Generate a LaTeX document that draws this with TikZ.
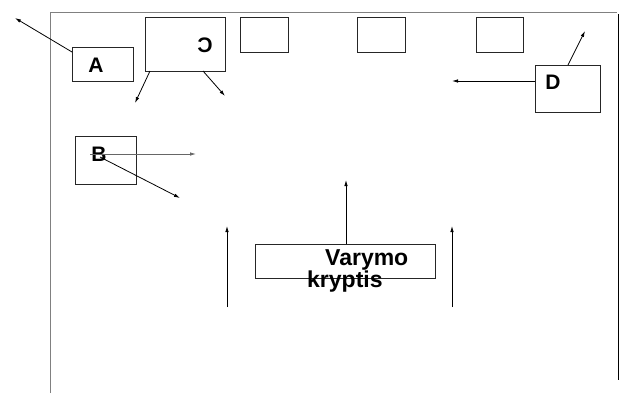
\documentclass[tikz,border=0pt]{standalone}
\usepackage{fontspec}
\setmainfont{Liberation Sans}
\usetikzlibrary{arrows.meta}
\begin{document}
\begin{tikzpicture}[x=1pt,y=-1pt,
  box/.style={draw=black!85,line width=0.9pt,inner sep=0pt,anchor=north west},
  lbl/.style={font=\bfseries\fontsize{21}{21}\selectfont,inner sep=0pt},
  arr/.style={-{Latex[length=6pt,width=3.5pt]},line width=0.8pt},
  frame/.style={draw=black!50,line width=1pt}]
\useasboundingbox (0,0) rectangle (638,407);
% frame
\coordinate (tl) at (50,12);
\coordinate (tr) at (617,12);
\coordinate (bl) at (50,393);
\coordinate (rt) at (618,14);
\coordinate (rb) at (618,380);
\draw[frame] (bl) -- (tl) -- (tr);
\draw[line width=0.9pt] (rt) -- (rb);
% boxes
\node[box,minimum width=61pt,minimum height=34pt] (A) at (72,47) {};
\node[lbl] (At) at (96,65) {A};
\node[box,minimum width=80pt,minimum height=54pt] (C) at (145,17) {};
\node[lbl] (Ct) at (205,45) {\reflectbox{C}};
\node[box,minimum width=48pt,minimum height=35pt] (T1) at (240,17) {};
\node[box,minimum width=48pt,minimum height=35pt] (T2) at (357,17) {};
\node[box,minimum width=47pt,minimum height=35pt] (T3) at (476,17) {};
\node[box,minimum width=65pt,minimum height=47pt] (D) at (535,65) {};
\node[lbl] (Dt) at (553,82) {D};
\node[box,minimum width=61pt,minimum height=48pt] (B) at (75,136) {};
\node[lbl] (Bt) at (99,154) {B};
\node[box,minimum width=180pt,minimum height=34pt] (V) at (255,244) {};
\node[font=\bfseries\fontsize{23}{19}\selectfont,align=left,inner sep=0pt,anchor=north west] (Vt) at (307,249) {\hspace*{18pt}Varymo\\kryptis};
% free ends
\coordinate (a0) at (72,52);
\coordinate (a1) at (15,18);
\coordinate (c0) at (150,71);
\coordinate (c1) at (135,103);
\coordinate (c3) at (203,71);
\coordinate (c2) at (225,96);
\coordinate (d0) at (535,81);
\coordinate (d1) at (452,81);
\coordinate (d3) at (568,65);
\coordinate (d2) at (585,31);
\coordinate (b0) at (90,154);
\coordinate (b1) at (196,154);
\coordinate (b3) at (100,157);
\coordinate (b2) at (180,198);
\coordinate (v0) at (346,244);
\coordinate (v1) at (346,180);
\coordinate (l0) at (227,307);
\coordinate (l1) at (227,226);
\coordinate (r0) at (452,307);
\coordinate (r1) at (452,226);
% arrows
\draw[arr] (a0) -- (a1);
\draw[arr] (c0) -- (c1);
\draw[arr] (c3) -- (c2);
\draw[arr] (d0) -- (d1);
\draw[arr] (d3) -- (d2);
\draw[arr,draw=black!60] (b0) -- (b1);
\draw[arr] (b3) -- (b2);
\draw[arr] (v0) -- (v1);
\draw[arr] (l0) -- (l1);
\draw[arr] (r0) -- (r1);
\end{tikzpicture}
\end{document}
